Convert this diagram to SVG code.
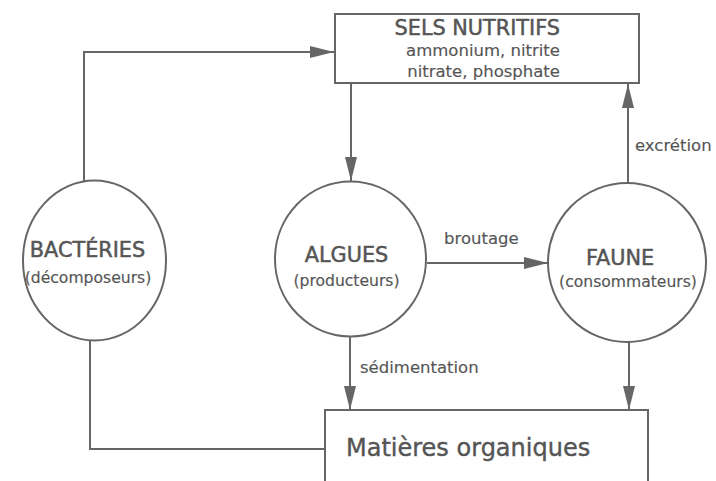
<svg xmlns="http://www.w3.org/2000/svg" width="716" height="481" viewBox="0 0 716 481">
<style>
  .shape { fill: #ffffff; stroke: #666666; stroke-width: 2; }
  .conn { fill: none; stroke: #666666; stroke-width: 2; }
  text { font-family: "DejaVu Sans", "Liberation Sans", sans-serif; fill: #555555; }
  .head { font-size: 20.8px; stroke: #555555; stroke-width: 0.5; }
  .sub { font-size: 15.6px; stroke: #555555; stroke-width: 0.15; }
  .lbl { font-size: 16.5px; stroke: #555555; stroke-width: 0.15; }
  .big { font-size: 24px; stroke: #555555; stroke-width: 0.4; }
</style>
<defs>
  <marker id="arrow" markerUnits="userSpaceOnUse" markerWidth="24" markerHeight="12" refX="24" refY="6" orient="auto">
    <path d="M0,0 L24,6 L0,12 z" fill="#666666"/>
  </marker>
</defs>
<rect width="716" height="481" fill="#ffffff"/>

<g id="connectors">
  <path class="conn" d="M84,182 V52 H334" marker-end="url(#arrow)"/>
  <path class="conn" d="M351,84 V181" marker-end="url(#arrow)"/>
  <path class="conn" d="M427,263 H548" marker-end="url(#arrow)"/>
  <path class="conn" d="M628,183 V84" marker-end="url(#arrow)"/>
  <path class="conn" d="M350,337 V410" marker-end="url(#arrow)"/>
  <path class="conn" d="M629,342 V410" marker-end="url(#arrow)"/>
  <path class="conn" d="M90,340 V449 H325"/>
  <text class="lbl" x="444" y="244">broutage</text>
  <text class="lbl" x="635" y="151">excrétion</text>
  <text class="lbl" x="360" y="373">sédimentation</text>
</g>

<g id="sels-nutritifs">
  <rect class="shape" x="335" y="14" width="304" height="69"/>
  <text class="head" x="560" y="35" text-anchor="end">SELS NUTRITIFS</text>
  <text class="lbl" x="560" y="56" text-anchor="end">ammonium, nitrite</text>
  <text class="lbl" x="560" y="77" text-anchor="end">nitrate, phosphate</text>
</g>

<g id="bacteries">
  <ellipse class="shape" cx="94.5" cy="260.5" rx="71.5" ry="80"/>
  <text class="head" x="87.5" y="257" text-anchor="middle">BACTÉRIES</text>
  <text class="sub" x="88" y="283" text-anchor="middle">(décomposeurs)</text>
</g>

<g id="algues">
  <ellipse class="shape" cx="350.5" cy="259" rx="75.5" ry="77.5"/>
  <text class="head" x="346.5" y="262" text-anchor="middle">ALGUES</text>
  <text class="sub" x="346.5" y="286" text-anchor="middle">(producteurs)</text>
</g>

<g id="faune">
  <ellipse class="shape" cx="627" cy="262.5" rx="79" ry="79.5"/>
  <text class="head" x="620" y="265" text-anchor="middle">FAUNE</text>
  <text class="sub" x="628" y="287" text-anchor="middle">(consommateurs)</text>
</g>

<g id="matieres-organiques">
  <path class="shape" d="M325,490 V410 H648 V490"/>
  <text class="big" x="346" y="456">Matières organiques</text>
</g>
</svg>
